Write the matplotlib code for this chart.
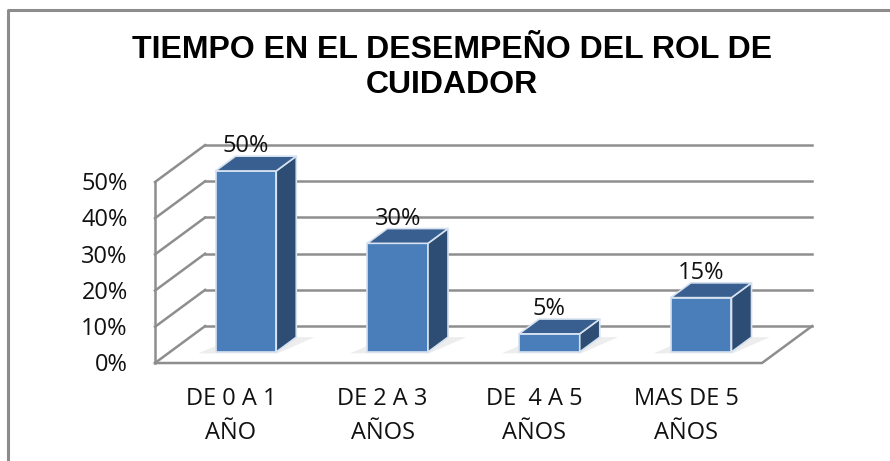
import matplotlib

matplotlib.use("Agg")
import matplotlib.pyplot as plt
from matplotlib.patches import Polygon

categories = ["DE 0 A 1\nAÑO", "DE 2 A 3\nAÑOS", "DE  4 A 5\nAÑOS", "MAS DE 5\nAÑOS"]
values = [0.50, 0.30, 0.05, 0.15]
value_ticks = [0.0, 0.1, 0.2, 0.3, 0.4, 0.5]
tick_labels = ["0%", "10%", "20%", "30%", "40%", "50%"]
title = "TIEMPO EN EL DESEMPEÑO DEL ROL DE\nCUIDADOR"

# oblique projection: depth d in [0, 1] shifts right and up
DX = 0.33   # category units per unit depth
DZ = 0.102  # value units per unit depth
FRONT_C = "#4A7EBB"
SIDE_C = "#2E4D74"
TOP_C = "#385F8F"
EDGE_C = "#D6E2F0"
GRID_C = "#8E8E8E"
TXT_C = "#111111"
FONT = "Open Sans"


def proj(x, z, d):
    return (x + d * DX, z + d * DZ)


fig = plt.figure(figsize=(8.9, 4.61), dpi=100)
ax = fig.add_axes([0, 0, 1, 1])
x_lo, x_hi = -1.0214, 4.8435
y_lo, y_hi = -0.2707, 1.0028
ax.set_xlim(x_lo, x_hi)
ax.set_ylim(y_lo, y_hi)
ax.axis("off")

# outer chart border (only left and top visible in the crop)
ax.plot([0.009, 0.009, 1.01], [-0.01, 0.978, 0.978], transform=ax.transAxes,
        color="#8C8C8C", lw=2.2, solid_capstyle="butt", clip_on=False)

n = len(categories)
zmax = value_ticks[-1]

# back wall gridlines and left wall lines
for z in value_ticks:
    p0 = proj(0, z, 1)
    p1 = proj(n, z, 1)
    ax.plot([p0[0], p1[0]], [p0[1], p1[1]], color=GRID_C, lw=1.8)
    q0 = proj(0, z, 0)
    ax.plot([q0[0], p0[0]], [q0[1], p0[1]], color=GRID_C, lw=1.8)
ax.plot([0, 0], [0, zmax], color=GRID_C, lw=1.8)

# floor outline
f = [proj(0, 0, 0), proj(n, 0, 0), proj(n, 0, 1)]
ax.plot([p[0] for p in f], [p[1] for p in f], color=GRID_C, lw=1.8)

# value tick labels
for z, lab in zip(value_ticks, tick_labels):
    ax.text(-0.18, z - 0.006, lab, ha="right", va="center", fontsize=17,
            family=FONT, color=TXT_C)

# category labels at front floor
for i, lab in enumerate(categories):
    ax.text(i + 0.5, -0.146, lab, ha="center", va="center", fontsize=17,
            family=FONT, color=TXT_C, linespacing=1.55)

# bars
w0, w1 = 0.3, 0.7
d0, d1 = 0.3, 0.7
for i, v in enumerate(values):
    xa, xb = i + w0, i + w1
    # soft shadow on floor
    shadow = [proj(xa - 0.1, 0, d0 - 0.04), proj(xb + 0.02, 0, d0 - 0.04),
              proj(xb + 0.12, 0, d1), proj(xa, 0, d1)]
    ax.add_patch(Polygon(shadow, closed=True, facecolor="#EDEDED", edgecolor="none", zorder=2))
    front = [proj(xa, 0, d0), proj(xb, 0, d0), proj(xb, v, d0), proj(xa, v, d0)]
    side = [proj(xb, 0, d0), proj(xb, 0, d1), proj(xb, v, d1), proj(xb, v, d0)]
    top = [proj(xa, v, d0), proj(xb, v, d0), proj(xb, v, d1), proj(xa, v, d1)]
    for poly, col in ((front, FRONT_C), (side, SIDE_C), (top, TOP_C)):
        ax.add_patch(Polygon(poly, closed=True, facecolor=col, edgecolor=EDGE_C,
                             lw=1.2, joinstyle="round", zorder=3))
    lx, ly = proj(i + 0.5, v, d0)
    ax.text(lx, ly + 0.068, f"{v:.0%}", ha="center", va="center", fontsize=17,
            family=FONT, color=TXT_C, zorder=4)

ax.text(0.508, 0.853, title, transform=ax.transAxes, ha="center", va="center",
        fontsize=23, fontweight="bold", family="Liberation Sans", linespacing=1.22)

fig.savefig("out.png", dpi=100)
